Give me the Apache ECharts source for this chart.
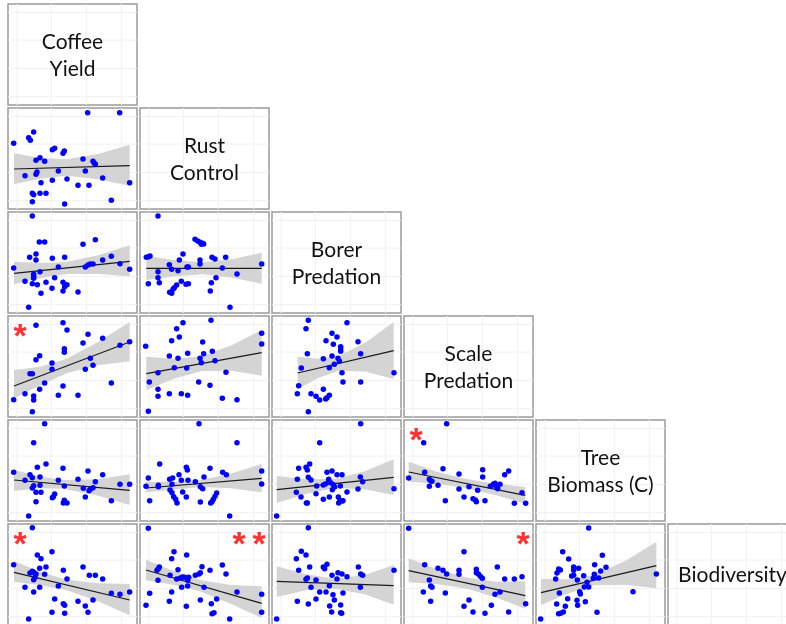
<!DOCTYPE html>
<html><head><meta charset="utf-8">
<script src="https://cdn.jsdelivr.net/npm/echarts@6/dist/echarts.min.js"></script>
<style>html,body{margin:0;padding:0;background:#fff}#c{width:786px;height:624px}</style>
</head><body><div id="c"></div><script>
// Variable names (diagonal labels)
const variables = ['Coffee\nYield', 'Rust\nControl', 'Borer\nPredation', 'Scale\nPredation', 'Tree\nBiomass (C)', 'Biodiversity'];

// Axis extents shared by every panel (scaled units)
const xRange = [0, 387];
const yRange = [0, 303];
const xGridVals = [27, 130, 235, 341];
const yGridVals = [25, 110, 195, 278];

// ---- Row 2: Rust Control ----
const pts_rust_vs_yield = [[239,289],[335,289],[77,231],[62,214],[67,206],[17,197],[133,178],[140,182],[169,174],[165,167],[225,150],[255,143],[262,134],[259,137],[96,154],[84,146],[110,143],[232,114],[151,114],[87,111],[84,104],[51,100],[284,93],[177,90],[133,86],[99,79],[365,79],[210,71],[243,71],[73,47],[77,43],[96,47],[114,47],[73,22],[170,15],[310,26]];
const fit_rust_vs_yield = [[18,120],[365,130]];
const band_rust_vs_yield = [[18,75,167],[97,91,153],[176,100,149],[270,89,165],[365,70,193]];

// ---- Row 3: Borer Predation ----
const pts_borer_vs_yield = [[73,291],[94,213],[110,213],[262,220],[225,206],[84,177],[65,167],[84,159],[133,164],[170,167],[284,159],[310,170],[17,135],[151,138],[232,138],[240,144],[247,147],[255,147],[336,148],[365,131],[96,124],[77,116],[77,109],[77,104],[140,106],[51,95],[73,88],[88,85],[114,92],[165,92],[177,85],[170,79],[132,74],[165,66],[210,63],[99,59],[62,17]];
const fit_borer_vs_yield = [[18,119],[365,155]];
const band_borer_vs_yield = [[18,86,154],[97,104,150],[176,117,153],[270,117,173],[365,110,203]];

const pts_borer_vs_rust = [[54,291],[165,221],[173,216],[180,212],[188,209],[191,207],[184,206],[129,177],[118,159],[19,167],[26,169],[30,171],[180,159],[180,147],[216,167],[225,162],[257,167],[88,145],[95,131],[141,138],[145,138],[114,127],[247,135],[291,117],[365,147],[54,124],[54,106],[58,91],[25,88],[124,95],[138,86],[145,88],[228,106],[214,91],[211,66],[110,84],[103,76],[99,71],[89,62],[95,59],[270,17]];
const fit_borer_vs_rust = [[19,134],[365,134]];
const band_borer_vs_rust = [[19,99,172],[105,110,158],[190,116,152],[278,106,162],[365,88,181]];

// ---- Row 4: Scale Predation ----
const pts_scale_vs_yield = [[84,275],[165,283],[177,261],[240,248],[225,222],[284,236],[336,215],[365,226],[169,205],[169,194],[95,184],[84,172],[132,162],[132,143],[247,176],[255,155],[232,143],[66,130],[73,130],[110,102],[95,83],[51,70],[77,63],[77,51],[17,52],[165,93],[151,65],[210,65],[310,102],[73,16]];
const fit_scale_vs_yield = [[18,93],[365,225]];
const band_scale_vs_yield = [[18,56,141],[97,95,151],[176,131,175],[270,155,225],[365,167,285]];

const pts_scale_vs_rust = [[213,290],[129,283],[110,265],[118,240],[95,229],[17,212],[188,225],[365,251],[365,219],[143,191],[191,190],[217,197],[88,183],[114,176],[180,176],[184,163],[225,169],[103,148],[140,147],[54,133],[258,134],[28,105],[176,105],[210,95],[54,83],[54,62],[88,70],[124,70],[143,65],[247,56],[291,52],[25,17]];
const fit_scale_vs_rust = [[19,130],[365,193]];
const band_scale_vs_rust = [[19,81,181],[102,115,175],[185,138,182],[275,139,215],[365,124,261]];

const pts_scale_vs_borer = [[109,290],[102,265],[225,283],[180,251],[195,240],[162,229],[184,218],[258,226],[206,211],[206,197],[206,204],[266,190],[106,190],[180,183],[198,176],[154,175],[202,168],[187,158],[172,148],[88,147],[210,133],[366,133],[213,105],[266,105],[80,94],[76,70],[154,83],[172,65],[165,58],[161,54],[117,70],[132,62],[143,51],[109,16]];
const fit_scale_vs_borer = [[77,132],[365,199]];
const band_scale_vs_borer = [[77,83,181],[138,117,175],[200,139,183],[282,136,224],[365,114,285]];

// ---- Row 5: Tree Biomass (C) ----
const pts_tree_vs_yield = [[110,292],[77,235],[88,161],[114,171],[165,158],[240,150],[17,146],[51,122],[66,139],[73,130],[96,132],[77,106],[73,99],[96,107],[84,86],[99,86],[151,122],[210,125],[284,139],[262,118],[169,105],[226,98],[255,100],[247,95],[243,91],[336,110],[365,110],[140,81],[133,70],[136,73],[232,72],[84,58],[169,62],[166,54],[177,54],[310,61],[62,15]];
const fit_tree_vs_yield = [[18,123],[365,92]];
const band_tree_vs_yield = [[18,90,153],[92,98,134],[166,97,123],[265,77,125],[365,48,140]];

const pts_tree_vs_rust = [[177,292],[291,235],[59,171],[139,161],[142,153],[210,158],[248,146],[259,139],[117,139],[25,129],[89,125],[98,129],[124,122],[144,122],[166,118],[192,132],[365,150],[365,111],[18,104],[55,107],[55,103],[96,110],[90,93],[96,85],[128,87],[181,103],[188,97],[181,57],[230,84],[225,74],[220,65],[216,58],[212,54],[101,73],[107,65],[111,54],[139,72],[29,61],[269,15]];
const fit_tree_vs_rust = [[18,99],[365,128]];
const band_tree_vs_rust = [[18,86,118],[99,94,118],[180,102,122],[272,98,142],[365,86,171]];

const pts_tree_vs_borer = [[266,292],[143,235],[113,171],[102,161],[106,153],[80,158],[109,131],[117,123],[76,125],[165,146],[180,150],[195,139],[210,139],[170,125],[170,117],[265,132],[272,118],[134,105],[154,108],[160,111],[176,115],[184,109],[188,102],[181,94],[205,105],[225,87],[258,96],[366,97],[73,86],[87,72],[132,82],[154,65],[172,72],[199,72],[204,62],[210,60],[213,61],[200,54],[103,54],[106,54],[14,15]];
const fit_tree_vs_borer = [[14,94],[365,131]];
const band_tree_vs_borer = [[14,54,135],[102,81,125],[190,100,126],[278,95,149],[365,78,185]];

const pts_tree_vs_scale = [[128,292],[59,235],[14,129],[62,146],[117,157],[76,125],[80,121],[84,119],[76,104],[102,107],[165,141],[236,154],[236,132],[314,150],[302,139],[165,96],[195,103],[221,92],[259,104],[268,110],[273,113],[288,110],[276,104],[281,97],[354,85],[124,61],[180,72],[207,67],[214,63],[217,58],[243,61],[331,53],[365,53]];
const fit_tree_vs_scale = [[14,147],[364,77]];
const band_tree_vs_scale = [[14,118,178],[98,112,148],[183,99,127],[274,78,112],[364,52,102]];

// ---- Row 6: Biodiversity ----
const pts_bio_vs_yield = [[73,292],[132,220],[88,210],[99,199],[17,181],[114,174],[95,170],[73,161],[66,156],[77,158],[84,153],[110,152],[81,143],[77,136],[166,164],[225,174],[177,138],[244,149],[262,149],[284,138],[51,113],[95,113],[151,117],[77,99],[310,95],[336,92],[365,99],[140,78],[210,71],[255,75],[166,64],[170,59],[232,57],[132,38],[170,35],[240,38],[62,18]];
const fit_bio_vs_yield = [[18,158],[365,75]];
const band_bio_vs_yield = [[18,130,192],[97,119,159],[176,104,136],[270,71,125],[365,29,123]];

const pts_bio_vs_rust = [[25,290],[102,220],[140,210],[95,199],[58,174],[55,169],[51,164],[54,134],[114,166],[90,149],[110,138],[121,141],[128,144],[134,143],[146,143],[143,134],[166,149],[177,153],[181,157],[186,175],[210,164],[247,180],[258,153],[125,113],[143,117],[192,113],[95,99],[29,95],[18,59],[88,71],[139,56],[181,75],[230,78],[214,64],[222,37],[216,34],[269,18],[291,99],[365,92],[365,38]];
const fit_bio_vs_rust = [[18,165],[365,65]];
const band_bio_vs_rust = [[18,134,196],[99,121,163],[180,101,135],[272,64,120],[365,21,116]];

const pts_bio_vs_borer = [[109,292],[88,221],[102,210],[73,199],[113,174],[80,164],[165,182],[154,174],[158,169],[259,174],[266,153],[272,149],[180,149],[198,157],[210,153],[225,145],[195,138],[106,141],[102,137],[132,135],[117,113],[143,99],[162,99],[172,118],[183,91],[213,96],[265,113],[366,164],[76,71],[132,78],[109,63],[187,75],[173,57],[206,60],[179,39],[206,37],[209,35],[14,18]];
const fit_bio_vs_borer = [[14,131],[365,118]];
const band_bio_vs_borer = [[14,84,176],[102,104,152],[190,109,139],[278,92,150],[365,61,180]];

const pts_bio_vs_scale = [[14,290],[180,220],[62,181],[102,170],[117,164],[128,153],[165,164],[165,152],[217,167],[217,157],[223,153],[229,146],[235,140],[280,174],[302,138],[331,138],[354,145],[76,135],[80,117],[84,113],[58,99],[124,96],[235,113],[273,92],[288,99],[80,71],[195,75],[180,56],[207,39],[243,35],[262,59],[314,39],[365,64]];
const fit_bio_vs_scale = [[14,163],[364,88]];
const band_bio_vs_scale = [[14,128,200],[103,122,166],[193,108,142],[278,82,130],[364,49,131]];

const pts_bio_vs_tree = [[158,291],[80,220],[98,198],[199,209],[113,174],[113,164],[176,181],[210,173],[128,170],[68,168],[73,165],[63,156],[59,138],[194,162],[107,147],[113,149],[143,148],[175,152],[172,140],[188,141],[124,135],[153,128],[145,114],[158,114],[131,100],[133,93],[70,96],[291,100],[361,153],[95,79],[123,74],[148,70],[62,63],[88,56],[125,59],[82,39],[74,35],[68,34],[183,38],[14,18]];
const fit_bio_vs_tree = [[15,97],[361,178]];
const band_bio_vs_tree = [[15,60,138],[93,93,137],[172,119,149],[266,121,191],[361,110,249]];

// Significance marks per panel (count of asterisks, corner)
const sig_marks = [
  {row:3, col:0, count:1, side:'left'},
  {row:4, col:3, count:1, side:'left'},
  {row:5, col:0, count:1, side:'left'},
  {row:5, col:1, count:2, side:'right'},
  {row:5, col:3, count:1, side:'right'}
];

// Panel table built from the arrays above
const panels = [
  [1,0,pts_rust_vs_yield,fit_rust_vs_yield,band_rust_vs_yield],
  [2,0,pts_borer_vs_yield,fit_borer_vs_yield,band_borer_vs_yield],
  [2,1,pts_borer_vs_rust,fit_borer_vs_rust,band_borer_vs_rust],
  [3,0,pts_scale_vs_yield,fit_scale_vs_yield,band_scale_vs_yield],
  [3,1,pts_scale_vs_rust,fit_scale_vs_rust,band_scale_vs_rust],
  [3,2,pts_scale_vs_borer,fit_scale_vs_borer,band_scale_vs_borer],
  [4,0,pts_tree_vs_yield,fit_tree_vs_yield,band_tree_vs_yield],
  [4,1,pts_tree_vs_rust,fit_tree_vs_rust,band_tree_vs_rust],
  [4,2,pts_tree_vs_borer,fit_tree_vs_borer,band_tree_vs_borer],
  [4,3,pts_tree_vs_scale,fit_tree_vs_scale,band_tree_vs_scale],
  [5,0,pts_bio_vs_yield,fit_bio_vs_yield,band_bio_vs_yield],
  [5,1,pts_bio_vs_rust,fit_bio_vs_rust,band_bio_vs_rust],
  [5,2,pts_bio_vs_borer,fit_bio_vs_borer,band_bio_vs_borer],
  [5,3,pts_bio_vs_scale,fit_bio_vs_scale,band_bio_vs_scale],
  [5,4,pts_bio_vs_tree,fit_bio_vs_tree,band_bio_vs_tree]
];

// Layout
const PX0 = 8, PY0 = 4, PW = 129, PH = 101, SX = 132, SY = 104;
const panelLeft = c => PX0 + SX * c;
const panelTop = r => PY0 + SY * r;

const grids = [], xAxes = [], yAxes = [], series = [], graphics = [];
function addGrid(r, c) {
  const i = grids.length;
  grids.push({left: panelLeft(c), top: panelTop(r), width: PW, height: PH,
    show: true, borderColor: '#9b9b9b', borderWidth: 1.5, backgroundColor: '#fff',
    outerBoundsMode: 'none', containLabel: false});
  const ax = {gridIndex: i, type: 'value', axisLine: {show: false}, axisTick: {show: false},
    axisLabel: {show: false}, splitLine: {show: false}};
  xAxes.push(Object.assign({min: xRange[0], max: xRange[1]}, ax));
  yAxes.push(Object.assign({min: yRange[0], max: yRange[1]}, ax));
  // faint background grid lines, drawn beneath everything in the panel
  series.push({type: 'custom', xAxisIndex: i, yAxisIndex: i, silent: true, z: 0, data: [0],
    renderItem: (params, api) => {
      const children = [];
      xGridVals.forEach(v => {
        const a = api.coord([v, yRange[0]]), b = api.coord([v, yRange[1]]);
        children.push({type: 'line', shape: {x1: a[0], y1: a[1], x2: b[0], y2: b[1]},
          style: {stroke: '#f0f0f0', lineWidth: 1}});
      });
      yGridVals.forEach(v => {
        const a = api.coord([xRange[0], v]), b = api.coord([xRange[1], v]);
        children.push({type: 'line', shape: {x1: a[0], y1: a[1], x2: b[0], y2: b[1]},
          style: {stroke: '#f0f0f0', lineWidth: 1}});
      });
      return {type: 'group', children: children};
    }});
  return i;
}

// Diagonal label panels
variables.forEach((name, k) => {
  addGrid(k, k);
  graphics.push({type: 'text', x: panelLeft(k) + PW / 2, y: panelTop(k) + PH / 2 + 1, z: 10,
    style: {text: name, fill: '#111', font: '21px Lato', lineHeight: 27,
      textAlign: 'center', textVerticalAlign: 'middle'}});
});

// Scatter panels
panels.forEach(([r, c, pts, fit, band]) => {
  const i = addGrid(r, c);
  series.push({type: 'custom', xAxisIndex: i, yAxisIndex: i, silent: true, z: 1,
    data: band, encode: {x: 0, y: [1, 2]},
    renderItem: (params, api) => {
      if (params.dataIndex !== 0) return;
      const up = band.map(b => api.coord([b[0], b[2]]));
      const lo = band.map(b => api.coord([b[0], b[1]])).reverse();
      return {type: 'polygon', shape: {points: up.concat(lo)}, style: {fill: '#d4d4d4'}};
    }});
  series.push({type: 'line', xAxisIndex: i, yAxisIndex: i, data: fit, symbol: 'none', silent: true, z: 2,
    lineStyle: {color: '#1a1a1a', width: 1.2}});
  series.push({type: 'scatter', xAxisIndex: i, yAxisIndex: i, data: pts, symbolSize: 5.5, z: 3,
    itemStyle: {color: '#0000ff', opacity: 1, borderWidth: 0}});
});

// Significance asterisks
sig_marks.forEach(m => {
  for (let k = 0; k < m.count; k++) {
    const cx = m.side === 'left' ? panelLeft(m.col) + 12 + 20 * k
                                 : panelLeft(m.col) + PW - 10 - 20 * k;
    graphics.push({type: 'text', x: cx, y: panelTop(m.row) + 22, z: 20,
      style: {text: '*', fill: '#ff3030', font: 'bold 34px "Liberation Sans"',
        textAlign: 'center', textVerticalAlign: 'middle'}});
  }
});

const chart = echarts.init(document.getElementById('c'), null, {renderer: 'canvas'});
chart.setOption({animation: false, backgroundColor: '#fff', grid: grids, xAxis: xAxes, yAxis: yAxes,
  series: series, graphic: graphics});
</script></body></html>
